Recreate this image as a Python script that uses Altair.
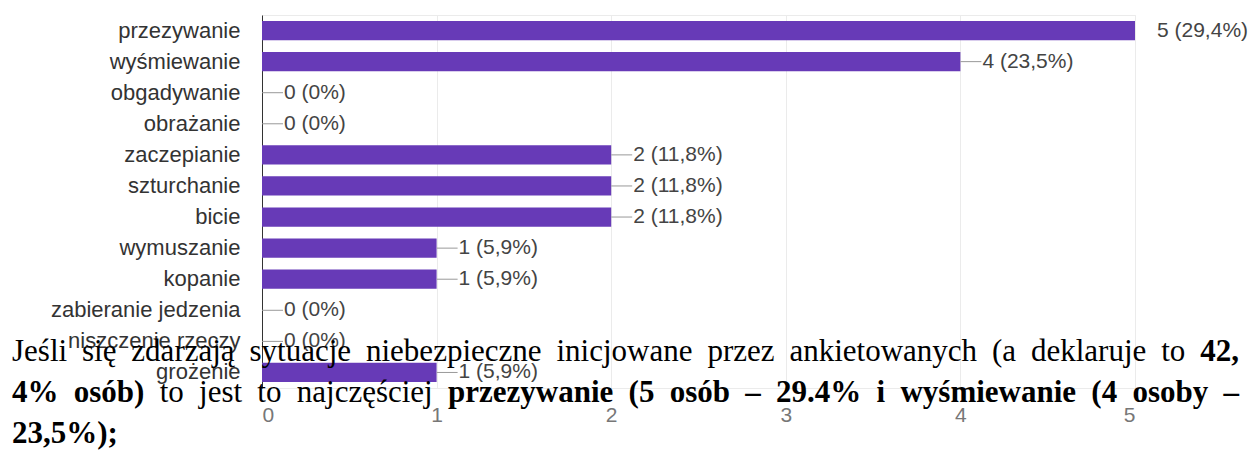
import altair as alt
import pandas as pd

# ---- chart data ----
categories = ["przezywanie", "wyśmiewanie", "obgadywanie", "obrażanie", "zaczepianie",
              "szturchanie", "bicie", "wymuszanie", "kopanie", "zabieranie jedzenia",
              "niszczenie rzeczy", "grożenie"]
counts = [5, 4, 0, 0, 2, 2, 2, 1, 1, 0, 0, 1]
percents = ["29,4%", "23,5%", "0%", "0%", "11,8%", "11,8%", "11,8%", "5,9%", "5,9%", "0%", "0%", "5,9%"]
x_ticks = [0, 0.5, 1, 1.5, 2, 2.5, 3, 3.5, 4, 4.5, 5]

# ---- overlapping document text (word, bold) ----
line1 = [("Jeśli", 0), ("się", 0), ("zdarzają", 0), ("sytuacje", 0), ("niebezpieczne", 0),
         ("inicjowane", 0), ("przez", 0), ("ankietowanych", 0), ("(a", 0), ("deklaruje", 0),
         ("to", 0), ("42,", 1)]
line2 = [("4%", 1), ("osób)", 1), ("to", 0), ("jest", 0), ("to", 0), ("najczęściej", 0),
         ("przezywanie", 1), ("(5", 1), ("osób", 1), ("–", 1), ("29.4%", 1), ("i", 1),
         ("wyśmiewanie", 1), ("(4", 1), ("osoby", 1), ("–", 1)]
line3 = [("23,5%);", 1)]

df = pd.DataFrame({
    "category": categories,
    "count": counts,
    "label": [f"{c} ({p})" for c, p in zip(counts, percents)],
})

# ---- layout constants ----
PLOT_LEFT, PLOT_TOP = 262, 15       # page position of plot origin
PLOT_W, PLOT_H = 873, 373
TOTAL_W, TOTAL_H = 1241, 444
FS = 31                              # serif font size (px)
TEXT_X0, TEXT_X1 = 12, 1239
BASELINES = [361, 402, 443]

# Times (Liberation Serif) advance widths per 1000 em
REG = {" ": 250, "(": 333, ")": 333, ",": 250, ".": 250, "%": 833, "a": 444, "b": 500,
       "c": 444, "d": 500, "e": 444, "h": 500, "i": 278, "j": 278, "k": 500, "l": 278,
       "n": 500, "o": 500, "p": 500, "r": 333, "s": 389, "t": 278, "u": 500, "w": 722,
       "y": 500, "z": 444, "J": 389, "ą": 444, "ę": 444, "ś": 389, "ć": 444}
BOLD = {" ": 250, "(": 333, ")": 333, ",": 250, ".": 250, ";": 333, "%": 1000, "a": 500,
        "b": 556, "c": 444, "e": 444, "i": 278, "m": 833, "n": 556, "o": 500, "p": 556,
        "r": 444, "s": 389, "w": 722, "y": 500, "z": 444, "ó": 500, "ś": 389, "–": 500}


def word_width(w, bold):
    table = BOLD if bold else REG
    return sum(table.get(ch, 500) for ch in w) / 1000 * FS


rows = []
for li, (words, base) in enumerate(zip([line1, line2, line3], BASELINES)):
    widths = [word_width(w, b) for w, b in words]
    justify = li < 2 and len(words) > 1
    gap = (TEXT_X1 - TEXT_X0 - sum(widths)) / (len(words) - 1) if justify else 0.25 * FS
    x = TEXT_X0
    for (w, b), wd in zip(words, widths):
        rows.append({"w": w, "bold": b, "px": x - PLOT_LEFT, "py": base - PLOT_TOP})
        x += wd + gap
words_df = pd.DataFrame(rows)

base = alt.Chart(df)

bars = base.mark_bar(color="#673ab7").encode(
    x=alt.X("count:Q",
            scale=alt.Scale(domain=[0, 5], nice=False),
            axis=alt.Axis(values=x_ticks, format="d",
                          labelExpr="datum.value % 1 === 0 ? datum.label : ''",
                          grid=True, gridColor="#ebebeb", domain=False, ticks=False,
                          labelFontSize=21, labelColor="#777777", labelPadding=16,
                          labelFont="Liberation Sans", title=None)),
    y=alt.Y("category:N", sort=categories,
            scale=alt.Scale(paddingInner=0.38, paddingOuter=0.19),
            axis=alt.Axis(title=None, domain=True, domainColor="#333333", ticks=False,
                          labelPadding=22, labelFontSize=22, labelColor="#333333",
                          labelFont="Liberation Sans", labelLimit=400)),
)

leaders = base.transform_joinaggregate(mx="max(count)").transform_filter(
    "datum.count < datum.mx").mark_rule(color="#999999", x2Offset=21).encode(
    x="count:Q", x2="count:Q", y=alt.Y("category:N", sort=categories))

values = base.mark_text(align="left", baseline="middle", dx=22, fontSize=21,
                        font="Liberation Sans", color="#444444").encode(
    x="count:Q", y=alt.Y("category:N", sort=categories), text="label:N")

text_reg = alt.Chart(words_df).transform_filter("datum.bold == 0").mark_text(
    align="left", baseline="alphabetic", font="Liberation Serif", fontSize=FS,
    color="#000000").encode(
    x=alt.X("px:Q", scale=None, axis=None),
    y=alt.Y("py:Q", scale=None, axis=None),
    text="w:N")

text_bold = alt.Chart(words_df).transform_filter("datum.bold == 1").mark_text(
    align="left", baseline="alphabetic", font="Liberation Serif", fontSize=FS,
    fontWeight="bold", color="#000000").encode(
    x=alt.X("px:Q", scale=None, axis=None),
    y=alt.Y("py:Q", scale=None, axis=None),
    text="w:N")

chart = alt.layer(bars, leaders, values, text_reg, text_bold).properties(
    width=PLOT_W, height=PLOT_H,
    padding={"left": PLOT_LEFT - 8, "top": PLOT_TOP - 8,
             "right": TOTAL_W - (PLOT_LEFT - 8) - PLOT_W,
             "bottom": TOTAL_H - (PLOT_TOP - 8) - PLOT_H},
    autosize=alt.AutoSizeParams(type="none"),
).configure_view(stroke="#ebebeb")

chart.save("out.html", embed_options={"renderer": "svg", "actions": False})
